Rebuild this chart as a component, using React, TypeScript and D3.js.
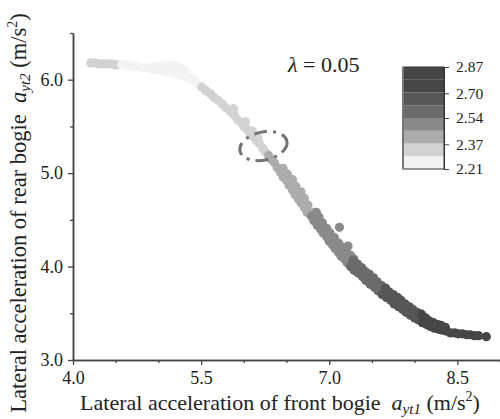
import React, { useEffect, useRef } from "react";
import * as d3 from "d3";

type Pt = [number, number]; // [a_yt1, a_yt2] in m/s^2

// point groups along the curve, each with one colour value
const seg1: Pt[] = [[4.21, 6.18], [4.26, 6.18], [4.30, 6.17], [4.35, 6.17], [4.40, 6.17], [4.45, 6.17], [4.49, 6.16], [4.53, 6.16]];
const seg2: Pt[] = [
  [4.57, 6.16], [4.62, 6.15], [4.67, 6.15], [4.71, 6.14], [4.76, 6.14], [4.81, 6.13], [4.86, 6.13], [4.90, 6.12],
  [4.95, 6.11], [5.00, 6.11], [5.04, 6.10], [5.09, 6.09], [5.14, 6.08], [5.18, 6.07], [5.23, 6.06], [5.28, 6.05],
  [5.32, 6.03], [5.37, 6.01], [5.42, 5.99], [5.46, 5.95],
  [4.96, 6.14], [5.02, 6.14], [5.08, 6.15], [5.14, 6.15], [5.20, 6.15], [5.25, 6.13], [5.30, 6.10], [5.11, 6.12], [5.22, 6.10],
];
const seg3: Pt[] = [
  [5.51, 5.92], [5.56, 5.88], [5.61, 5.85], [5.65, 5.81], [5.70, 5.78], [5.75, 5.74], [5.79, 5.70], [5.84, 5.66],
  [5.89, 5.62], [5.93, 5.57], [5.97, 5.54], [6.00, 5.50], [6.04, 5.47], [6.07, 5.43], [6.11, 5.39], [6.15, 5.35],
  [6.18, 5.32], [6.22, 5.27], [6.25, 5.23],
  [5.88, 5.69], [6.02, 5.55], [6.10, 5.45], [6.17, 5.37],
];
const seg4: Pt[] = [
  [6.29, 5.19], [6.32, 5.15], [6.36, 5.11], [6.39, 5.06], [6.43, 5.01], [6.46, 4.96], [6.50, 4.92], [6.53, 4.87],
  [6.57, 4.82], [6.60, 4.77], [6.64, 4.72], [6.67, 4.68], [6.71, 4.63], [6.74, 4.58],
];
const seg5: Pt[] = [[6.46, 5.05], [6.51, 4.99], [6.57, 4.93], [6.61, 4.86], [6.67, 4.80], [6.71, 4.73], [6.75, 4.66], [6.80, 4.58]];
const seg6: Pt[] = [
  [6.79, 4.54], [6.82, 4.49], [6.86, 4.44], [6.90, 4.40], [6.93, 4.36], [6.97, 4.32], [7.00, 4.27], [7.04, 4.23],
  [7.07, 4.19], [7.11, 4.15], [7.14, 4.11], [7.18, 4.08], [7.21, 4.04],
];
const seg7: Pt[] = [
  [6.85, 4.58], [6.88, 4.53], [6.92, 4.47], [6.97, 4.41], [7.01, 4.36], [7.06, 4.31], [7.11, 4.25], [7.15, 4.21],
  [7.20, 4.17], [7.25, 4.12], [7.29, 4.08], [7.22, 4.22], [7.12, 4.42],
];
const seg8: Pt[] = [[7.25, 4.00], [7.29, 3.96], [7.34, 3.93], [7.39, 3.89], [7.43, 3.85], [7.48, 3.81], [7.53, 3.78], [7.57, 3.74]];
const seg9: Pt[] = [[7.28, 4.07], [7.33, 4.03], [7.38, 3.99], [7.42, 3.95], [7.47, 3.92], [7.52, 3.88], [7.56, 3.84], [7.61, 3.80]];
const seg10: Pt[] = [
  [7.62, 3.70], [7.67, 3.67], [7.72, 3.64], [7.76, 3.60], [7.81, 3.57], [7.86, 3.54], [7.90, 3.51], [7.95, 3.48], [8.00, 3.45], [8.04, 3.43],
];
const seg11: Pt[] = [[7.66, 3.77], [7.70, 3.73], [7.75, 3.70], [7.80, 3.67], [7.84, 3.64], [7.89, 3.60], [7.94, 3.57], [7.98, 3.54], [8.03, 3.51]];
const seg12: Pt[] = [
  [8.09, 3.40], [8.14, 3.38], [8.18, 3.36], [8.23, 3.34], [8.28, 3.33], [8.32, 3.32], [8.37, 3.31], [8.42, 3.29],
  [8.47, 3.29], [8.51, 3.28], [8.56, 3.28], [8.61, 3.27], [8.65, 3.27], [8.70, 3.26], [8.75, 3.26], [8.84, 3.25],
];
const seg13: Pt[] = [[8.08, 3.49], [8.13, 3.45], [8.17, 3.42], [8.22, 3.40], [8.27, 3.38], [8.31, 3.37], [8.36, 3.35]];

const segments = [seg1, seg2, seg3, seg4, seg5, seg6, seg7, seg8, seg9, seg10, seg11, seg12, seg13];
const segValues = [2.33, 2.25, 2.33, 2.42, 2.42, 2.5, 2.5, 2.58, 2.58, 2.66, 2.66, 2.75, 2.75];

// colour bar
const bandEdges = [2.21, 2.2925, 2.375, 2.4575, 2.54, 2.6225, 2.705, 2.7875, 2.87];
const bandColors = ["#f3f3f3", "#d2d2d2", "#acacac", "#8a8a8a", "#6b6b6b", "#575757", "#464646", "#464646"];
const cbTicks = [2.21, 2.37, 2.54, 2.7, 2.87];

const xMajor = [4.0, 5.5, 7.0, 8.5];
const xMinor = [4.5, 5.0, 6.0, 6.5, 7.5, 8.0, 9.0];
const yMajor = [3.0, 4.0, 5.0, 6.0];
const yMinor = [3.5, 4.5, 5.5, 6.5];

const lambda = "0.05";
const ellipseCenter: Pt = [6.23, 5.29];

const font = "'Liberation Serif', 'Times New Roman', serif";

export default function App() {
  const ref = useRef<SVGSVGElement>(null);

  useEffect(() => {
    document.body.style.margin = "0";
    const svg = d3.select(ref.current);
    svg.selectAll("*").remove();

    const x = d3.scaleLinear().domain([4, 9]).range([73, 500]);
    const y = d3.scaleLinear().domain([3, 6.5]).range([360, 33]);
    const color = d3
      .scaleThreshold<number, string>()
      .domain(bandEdges.slice(1, -1))
      .range(bandColors.slice(0, 8));

    // scatter
    segments.forEach((seg, i) => {
      svg
        .append("g")
        .selectAll("circle")
        .data(seg)
        .enter()
        .append("circle")
        .attr("cx", (d) => x(d[0]))
        .attr("cy", (d) => y(d[1]))
        .attr("r", 4.6)
        .attr("fill", color(segValues[i]));
    });

    // dashed ellipse annotation
    const ex = x(ellipseCenter[0]);
    const ey = y(ellipseCenter[1]);
    svg
      .append("ellipse")
      .attr("cx", ex)
      .attr("cy", ey)
      .attr("rx", 24)
      .attr("ry", 14)
      .attr("transform", `rotate(-12 ${ex} ${ey})`)
      .attr("fill", "none")
      .attr("stroke", "#737373")
      .attr("stroke-width", 3)
      .attr("stroke-dasharray", "13,6,3,6");

    const styleAxis = (g: any) => {
      g.attr("font-family", font);
      g.select(".domain").attr("stroke", "#444").attr("stroke-width", 1.5);
      g.selectAll(".tick line").attr("stroke", "#444").attr("stroke-width", 1.3);
      g.selectAll("text").attr("font-family", font).attr("font-size", 18).attr("fill", "#222");
    };

    // x axis
    svg
      .append("g")
      .attr("transform", "translate(0,360)")
      .call(d3.axisBottom(x).tickValues(xMinor).tickSize(3).tickSizeOuter(0).tickFormat(() => ""))
      .call(styleAxis);
    svg
      .append("g")
      .attr("transform", "translate(0,360)")
      .call(d3.axisBottom(x).tickValues(xMajor).tickSize(5).tickSizeOuter(0).tickPadding(6).tickFormat(d3.format(".1f")))
      .call(styleAxis);

    // y axis
    svg
      .append("g")
      .attr("transform", "translate(73,0)")
      .call(d3.axisLeft(y).tickValues(yMinor).tickSize(3).tickSizeOuter(0).tickFormat(() => ""))
      .call(styleAxis);
    svg
      .append("g")
      .attr("transform", "translate(73,0)")
      .call(d3.axisLeft(y).tickValues(yMajor).tickSize(5).tickSizeOuter(0).tickPadding(5).tickFormat(d3.format(".1f")))
      .call(styleAxis);

    // axis titles
    const xt = svg
      .append("text")
      .attr("x", 280)
      .attr("y", 410)
      .attr("text-anchor", "middle")
      .attr("font-family", font)
      .attr("font-size", 22)
      .attr("fill", "#222");
    xt.append("tspan").text("Lateral acceleration of front bogie\u00a0\u00a0");
    xt.append("tspan").attr("font-style", "italic").text("a");
    xt.append("tspan").attr("font-style", "italic").attr("font-size", 15).attr("dy", 4).text("yt1");
    xt.append("tspan").attr("dy", -4).text(" (m/s");
    xt.append("tspan").attr("font-size", 14).attr("dy", -9).text("2");
    xt.append("tspan").attr("dy", 9).text(")");

    const yt = svg
      .append("text")
      .attr("transform", "translate(26,213) rotate(-90)")
      .attr("text-anchor", "middle")
      .attr("font-family", font)
      .attr("font-size", 22.5)
      .attr("fill", "#222");
    yt.append("tspan").text("Lateral acceleration of rear bogie\u00a0\u00a0");
    yt.append("tspan").attr("font-style", "italic").text("a");
    yt.append("tspan").attr("font-style", "italic").attr("font-size", 15).attr("dy", 4).text("yt2");
    yt.append("tspan").attr("dy", -4).text(" (m/s");
    yt.append("tspan").attr("font-size", 14).attr("dy", -9).text("2");
    yt.append("tspan").attr("dy", 9).text(")");

    // lambda label
    const lt = svg
      .append("text")
      .attr("x", 288)
      .attr("y", 72)
      .attr("font-family", font)
      .attr("font-size", 22)
      .attr("fill", "#222");
    lt.append("tspan").attr("font-style", "italic").text("\u03bb");
    lt.append("tspan").text(` = ${lambda}`);

    // colour bar
    const cb = d3.scaleLinear().domain([2.21, 2.87]).range([169, 67]);
    const cbX = 403;
    const cbW = 41;
    svg
      .append("g")
      .selectAll("rect")
      .data(bandColors)
      .enter()
      .append("rect")
      .attr("x", cbX)
      .attr("y", (_, i) => cb(bandEdges[i + 1]))
      .attr("width", cbW)
      .attr("height", (_, i) => cb(bandEdges[i]) - cb(bandEdges[i + 1]))
      .attr("fill", (d) => d);
    svg
      .append("rect")
      .attr("x", cbX)
      .attr("y", cb(2.87))
      .attr("width", cbW)
      .attr("height", cb(2.21) - cb(2.87))
      .attr("fill", "none")
      .attr("stroke", "#333")
      .attr("stroke-width", 1);
    svg
      .append("line")
      .attr("x1", cbX)
      .attr("x2", cbX)
      .attr("y1", cb(2.87))
      .attr("y2", cb(2.21))
      .attr("stroke", "#777")
      .attr("stroke-width", 2);
    svg
      .append("g")
      .attr("transform", `translate(${cbX + cbW},0)`)
      .call(d3.axisRight(cb).tickValues(cbTicks).tickSize(5).tickSizeOuter(0).tickPadding(7).tickFormat(d3.format(".2f")))
      .call((g: any) => {
        g.attr("font-family", font);
        g.select(".domain").attr("stroke", "#333");
        g.selectAll(".tick line").attr("stroke", "#444");
        g.selectAll("text").attr("font-family", font).attr("font-size", 15.5).attr("fill", "#222");
      });
  }, []);

  return <svg ref={ref} width={500} height={419} style={{ display: "block" }} />;
}
